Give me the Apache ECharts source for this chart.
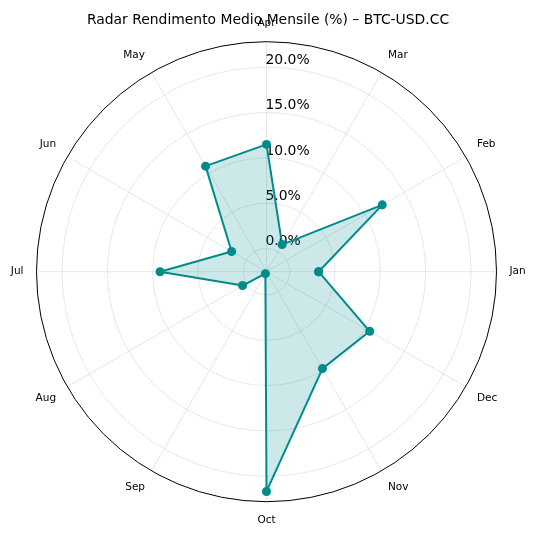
<!DOCTYPE html>
<html>
<head>
<meta charset="utf-8">
<script src="https://cdn.jsdelivr.net/npm/echarts@6/dist/echarts.min.js"></script>
<style>
  html, body { margin: 0; padding: 0; background: #fff; }
  #chart { width: 536px; height: 537px; }
</style>
</head>
<body>
<div id="chart"></div>
<script>
// mesi e rendimento medio mensile (%)
var months = ['Jan', 'Feb', 'Mar', 'Apr', 'May', 'Jun', 'Jul', 'Aug', 'Sep', 'Oct', 'Nov', 'Dec'];
var returns = [3.2, 12.2, 0.9, 11.5, 10.9, 1.9, 9.2, 0.5, -2.3, 21.7, 9.8, 10.6];
var radialTicks = [0, 5, 10, 15, 20];
var rMin = -2.55;
var rMax = 22.83;

// un mese ogni 30 gradi, chiudo il poligono ripetendo gennaio a 360
var step = 360 / months.length;
var seriesData = returns.map(function (v, i) { return [v, i * step]; });
seriesData.push([returns[0], 360]);

var font = 'DejaVu Sans';
var center = [266.5, 271.7];
var gridColor = '#cfcfcf';

var myChart = echarts.init(document.getElementById('chart'));
var option = {
  backgroundColor: '#fff',
  animation: false,
  title: {
    text: 'Radar Rendimento Medio Mensile (%) – BTC-USD.CC',
    left: 'center',
    top: 8,
    textStyle: { fontFamily: font, fontSize: 13.9, fontWeight: 'normal', color: '#000' }
  },
  polar: [
    { center: center, radius: 230 },
    { center: center, radius: 230 }
  ],
  angleAxis: [
    {
      polarIndex: 0,
      type: 'value',
      min: 0,
      max: 360,
      interval: step,
      startAngle: 0,
      clockwise: false,
      axisLine: { show: true, lineStyle: { color: '#000', width: 1 } },
      axisTick: { show: false },
      axisLabel: {
        fontFamily: font, fontSize: 10.5, color: '#000', margin: 13,
        formatter: function (v) { return months[Math.round(v / step) % months.length]; }
      },
      splitLine: { show: true, lineStyle: { color: gridColor, type: 'dotted', width: 1 } }
    },
    {
      polarIndex: 1,
      type: 'value',
      startAngle: 90,
      min: 0,
      max: 360,
      show: false
    }
  ],
  radiusAxis: [
    {
      polarIndex: 0,
      type: 'value',
      min: rMin,
      max: rMax,
      show: false
    },
    {
      polarIndex: 1,
      type: 'value',
      min: rMin,
      max: rMax,
      axisLine: { show: false },
      axisTick: { show: false, customValues: radialTicks },
      axisLabel: {
        customValues: radialTicks,
        fontFamily: font,
        fontSize: 13.9,
        color: '#000',
        margin: 1,
        align: 'left',
        verticalAlign: 'bottom',
        formatter: function (v) { return v.toFixed(1) + '%'; }
      },
      splitLine: { show: true, lineStyle: { color: gridColor, type: 'dotted', width: 1 } }
    }
  ],
  series: [{
    type: 'line',
    coordinateSystem: 'polar',
    polarIndex: 0,
    data: seriesData,
    clip: false,
    symbol: 'circle',
    symbolSize: 9,
    showAllSymbol: true,
    itemStyle: { color: '#008b8b' },
    lineStyle: { color: '#008b8b', width: 2 },
    areaStyle: { color: '#008b8b', opacity: 0.2, origin: 'start' },
    z: 3
  }]
};
myChart.setOption(option);
</script>
</body>
</html>
